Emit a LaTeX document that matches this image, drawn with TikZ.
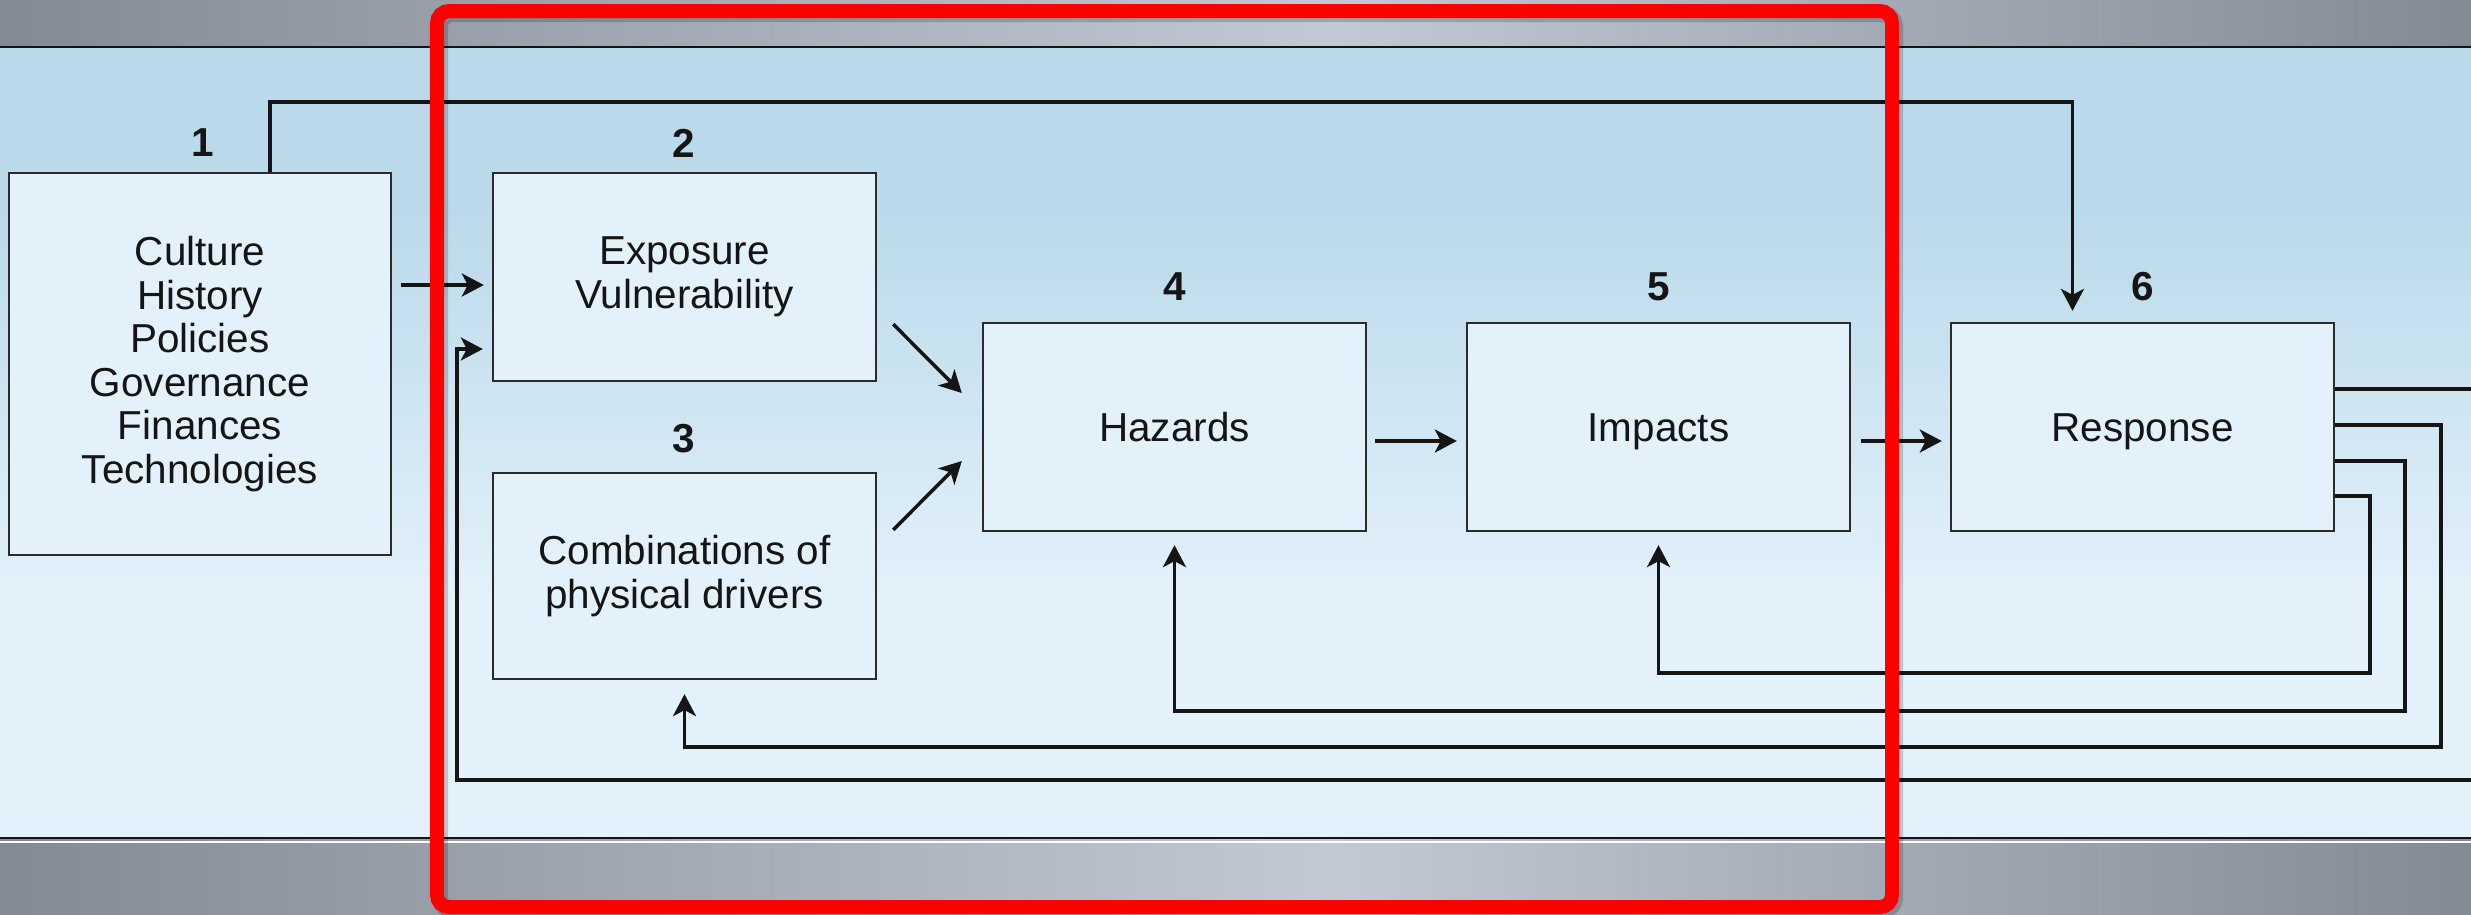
\documentclass[tikz,border=0pt]{standalone}
\usepackage{fontspec}
\setmainfont{Liberation Sans}
\usetikzlibrary{arrows.meta,calc}
\definecolor{panelTop}{HTML}{BAD9EA}
\definecolor{panelBot}{HTML}{E3F1FA}
\definecolor{bandDark}{HTML}{838A94}
\definecolor{bandLight}{HTML}{C2C9D4}
\definecolor{boxFill}{HTML}{E3F1FA}
\definecolor{boxLine}{HTML}{2B2B2B}
\definecolor{ink}{HTML}{151515}
\definecolor{frameRed}{HTML}{FF0000}
% panel background: darker blue at the top, fading to pale blue lower down
\pgfdeclareverticalshading{panelshade}{100bp}{color(0bp)=(panelBot); color(40bp)=(panelBot); color(65bp)=(panelTop); color(100bp)=(panelTop)}
% grey bands: dark at both ends, light a little left of the middle
\pgfdeclarehorizontalshading{bandshade}{100bp}{color(0bp)=(bandDark); color(25bp)=(bandDark); color(52bp)=(bandLight); color(75bp)=(bandDark); color(100bp)=(bandDark)}

\begin{document}
\begin{tikzpicture}[x=0.01cm,y=-0.01cm,
  box/.style={draw=boxLine, line width=0.6pt, fill=boxFill, inner sep=0pt,
    align=center, text=ink, font=\fontsize{11.5pt}{12.4pt}\selectfont},
  oneline/.style={text height=8.2pt, text depth=0pt},
  num/.style={font=\bfseries\fontsize{11.5pt}{12.4pt}\selectfont, text=ink, inner sep=0pt},
  link/.style={draw=ink, line width=1pt},
  arr/.style={link, -{Stealth[length=0.22cm, width=0.23cm, inset=0.06cm]}}]

\useasboundingbox (0,0) rectangle (2471,914);

% grey bands above and below the panel
\shade[shading=bandshade] (0,0) rectangle (2471,47);
\shade[shading=bandshade] (0,838) rectangle (2471,914);
\shade[shading=panelshade] (0,47) rectangle (2471,838);
\draw[ink, line width=0.6pt] (0,47) -- (2471,47);
\draw[ink, line width=0.6pt] (0,838) -- (2471,838);
\draw[white, line width=0.6pt] (0,842) -- (2471,842);

% boxes
\node[box, minimum width=3.82cm, minimum height=3.82cm] (b1) at (200,364)
  {Culture\\History\\Policies\\Governance\\Finances\\Technologies};
\node[box, minimum width=3.83cm, minimum height=2.08cm] (b2) at (684.5,277)
  {Exposure\\Vulnerability};
\node[box, minimum width=3.83cm, minimum height=2.06cm] (b3) at (684.5,576)
  {Combinations of\\physical drivers};
\node[box, oneline, minimum width=3.83cm, minimum height=2.08cm] (b4) at (1174.5,427) {Hazards};
\node[box, oneline, minimum width=3.83cm, minimum height=2.08cm] (b5) at (1658.5,427) {Impacts};
\node[box, oneline, minimum width=3.83cm, minimum height=2.08cm] (b6) at (2142.5,427) {Response};

% step numbers
\node[num] (n1) at ($(b1.north)+(3,-29)$) {1};
\node[num] (n2) at ($(b2.north)+(-1,-29)$) {2};
\node[num] (n3) at ($(b3.north)+(-1,-33)$) {3};
\node[num] (n4) at ($(b4.north)+(0,-35)$) {4};
\node[num] (n5) at ($(b5.north)+(0,-35)$) {5};
\node[num] (n6) at ($(b6.north)+(0,-35)$) {6};

% forward flow
\draw[arr] ($(b1.east |- b2.west)+(9,8)$) -- ($(b2.west)+(-8,8)$);
\draw[arr] ($(b1.north)+(70,0)$) |- ($(b6.north)+(-70,-220)$) -- ($(b6.north)+(-70,-11)$);
\draw[arr] ($(b2.south east)+(16,-58)$) -- ($(b4.west)+(-20,-34)$);
\draw[arr] ($(b3.north east)+(16,58)$) -- ($(b4.west)+(-20,34)$);
\draw[arr] ($(b4.east)+(8,14)$) -- ($(b5.west)+(-9,14)$);
\draw[arr] ($(b5.east)+(10,14)$) -- ($(b6.west)+(-8,14)$);

% feedback loops from the response
\coordinate (exitR) at ($(b6.east)+(137,-38)$);
\coordinate (enterR) at ($(b6.east)+(137,353)$);
\draw[link] ($(b6.east)+(0,-38)$) -- (exitR);
\draw[arr] (enterR) -| ($(b2.west)+(-35,72)$) -- ($(b2.west)+(-9,72)$);
\draw[arr] ($(b6.east)+(0,-2)$) -| ($(b6.east)+(106,320)$) -| ($(b3.south)+(0,14)$);
\draw[arr] ($(b6.east)+(0,34)$) -| ($(b6.east)+(70,284)$) -| ($(b4.south)+(0,13)$);
\draw[arr] ($(b6.east)+(0,69)$) -| ($(b6.east)+(35,246)$) -| ($(b5.south)+(0,13)$);

% highlight frame with a soft shadow
\draw[black, opacity=0.18, line width=0.16cm, rounded corners=0.12cm] (440,14) rectangle (1895,910);
\draw[frameRed, line width=0.14cm, rounded corners=0.12cm] (437,11) rectangle (1892,907);
\end{tikzpicture}
\end{document}
